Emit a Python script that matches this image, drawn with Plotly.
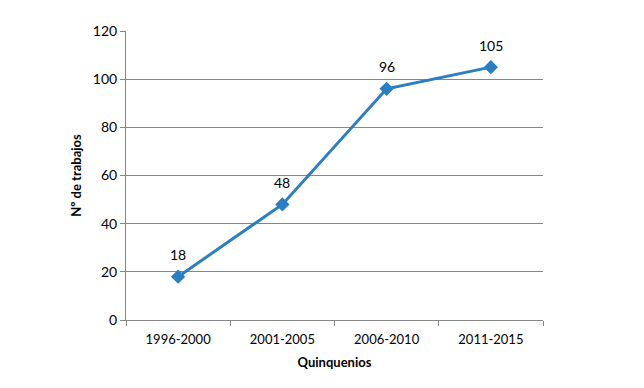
import plotly.graph_objects as go

categories = ["1996-2000", "2001-2005", "2006-2010", "2011-2015"]
values = [18, 48, 96, 105]
y_ticks = [0, 20, 40, 60, 80, 100, 120]

FONT = "Lato, Calibri, Carlito, sans-serif"
BLUE = "#2a7ec4"
GRID = "#868686"

fig = go.Figure()
fig.add_trace(go.Scatter(
    x=categories, y=values,
    mode="lines+markers",
    line=dict(color=BLUE, width=3),
    marker=dict(symbol="diamond", size=11, color=BLUE),
    showlegend=False,
))

for c, v in zip(categories, values):
    fig.add_annotation(
        x=c, y=v, text=str(v), showarrow=False,
        yshift=22, font=dict(family=FONT, size=14, color="#000000"),
    )

fig.update_layout(
    width=644, height=388,
    margin=dict(l=118, r=109, t=23, b=76),
    paper_bgcolor="white", plot_bgcolor="white",
    font=dict(family=FONT, size=13, color="#000000"),
    xaxis=dict(
        type="category",
        tickson="boundaries",
        ticks="outside", ticklen=5, tickcolor=GRID,
        showline=True, linecolor=GRID, linewidth=1,
        showgrid=False,
        ticklabelstandoff=7,
        tickfont=dict(family=FONT, size=13),
        title=dict(text="<b>Quinquenios</b>", font=dict(family=FONT, size=13), standoff=12),
        range=[-0.5, 3.5],
    ),
    yaxis=dict(
        range=[0, 120],
        tickvals=y_ticks,
        ticks="outside", ticklen=5, tickcolor=GRID,
        showline=True, linecolor=GRID, linewidth=1,
        showgrid=True, gridcolor=GRID, gridwidth=1,
        zeroline=False,
        tickfont=dict(family=FONT, size=14),
        title=dict(text="<b>Nº de trabajos</b>", font=dict(family=FONT, size=13), standoff=8),
    ),
)

fig.write_html("out.html")
